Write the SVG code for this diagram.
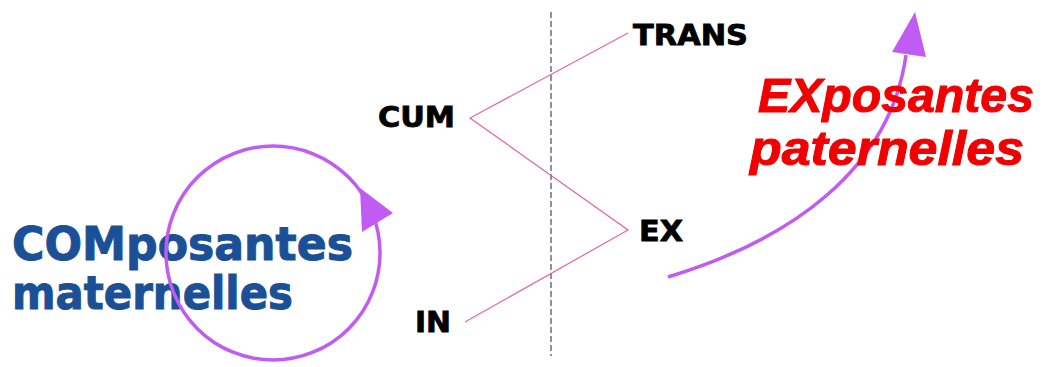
<svg xmlns="http://www.w3.org/2000/svg" width="1055" height="367" viewBox="0 0 1055 367">
<style>
.lbl{font-family:"DejaVu Sans","Liberation Sans",sans-serif;font-weight:bold;fill:#000;stroke:#000;stroke-width:0.8;font-size:28px}
.blue{font-family:"DejaVu Sans","Liberation Sans",sans-serif;font-weight:bold;fill:#1B4F96;stroke:#1B4F96;stroke-width:1;font-size:46px}
.red{font-family:"Liberation Sans","DejaVu Sans",sans-serif;font-weight:bold;font-style:italic;fill:#F00000;stroke:#F00000;stroke-width:1;font-size:48px}
.pink{stroke:#E0669E;stroke-width:1.2;fill:none}
.violet{stroke:#C05CF2;stroke-width:3.5;fill:none}
.head{fill:#C05CF2}
</style>
<rect width="1055" height="367" fill="#fff"/>
<g id="connectors">
<line x1="551" y1="12" x2="551" y2="356" stroke="#222" stroke-width="1" stroke-dasharray="6,3"/>
<polyline class="pink" points="628,33 470,118 628,230 465,322"/>
</g>
<g id="maternal">
<text class="blue" x="12" y="260" textLength="341" lengthAdjust="spacingAndGlyphs">COMposantes</text>
<text class="blue" x="12" y="309" textLength="281" lengthAdjust="spacingAndGlyphs">maternelles</text>
<ellipse class="violet" cx="273" cy="253" rx="107" ry="107"/>
<polygon class="head" points="360,188 393,213 362,232"/>
</g>
<g id="paternal">
<path class="violet" d="M668,277 C790,240 890,170 906,55"/>
<polygon class="head" points="915,12 892,52 926,57"/>
<text class="red" x="758" y="112" textLength="276" lengthAdjust="spacingAndGlyphs">EXposantes</text>
<text class="red" x="750" y="165" textLength="274" lengthAdjust="spacingAndGlyphs">paternelles</text>
</g>
<g id="trans"><text class="lbl" x="633" y="45" textLength="115" lengthAdjust="spacingAndGlyphs">TRANS</text></g>
<g id="cum"><text class="lbl" x="378" y="127" textLength="77" lengthAdjust="spacingAndGlyphs">CUM</text></g>
<g id="ex"><text class="lbl" x="639" y="241" textLength="44" lengthAdjust="spacingAndGlyphs">EX</text></g>
<g id="in"><text class="lbl" x="415" y="332" textLength="36" lengthAdjust="spacingAndGlyphs">IN</text></g>
</svg>
